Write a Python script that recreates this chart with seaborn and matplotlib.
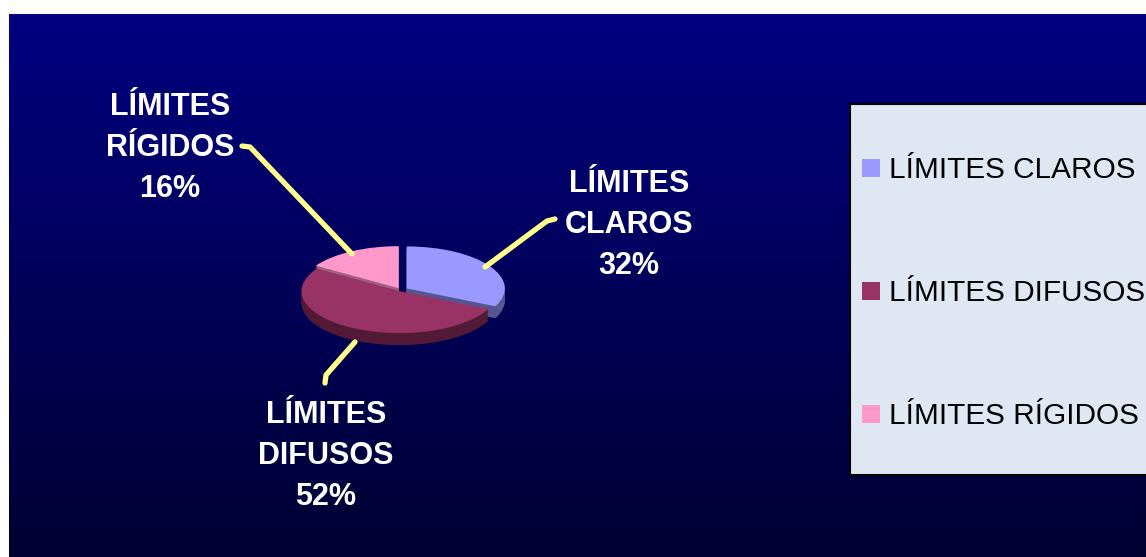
import numpy as np
import matplotlib
matplotlib.use("Agg")
import matplotlib.pyplot as plt
from matplotlib.patches import Rectangle
import seaborn as sns

# ---- data ----
categories = ["LÍMITES CLAROS", "LÍMITES DIFUSOS", "LÍMITES RÍGIDOS"]
values = [32, 52, 16]

# ---- style ----
sns.set_theme(style="white")
plt.rcParams['font.family'] = ['Liberation Sans', 'DejaVu Sans']

top_colors = sns.color_palette(["#9999ff", "#993366", "#ff99cc"])
side_colors = sns.color_palette(["#55558f", "#521a35", "#a0607e"])
explode = [0.07, 0.03, 0.05]

W, H = 1146, 557
fig = plt.figure(figsize=(W / 100, H / 100), dpi=100)
fig.patch.set_facecolor("white")

# background gradient panel
bg = fig.add_axes([9 / W, 0, 1 - 9 / W, (H - 14) / H], zorder=0)
grad = np.linspace(0, 1, 256)[:, None]
top = np.array([0, 0, 0x80]) / 255
bot = np.array([0, 0, 0x33]) / 255
img = top[None, None, :] * (1 - grad[:, :, None]) + bot[None, None, :] * grad[:, :, None]
bg.imshow(img, aspect="auto", extent=[0, 1, 0, 1])
bg.set_axis_off()

# ---- 3D-like pie ----
rx, ry = 98, 42
cx, cy = 401, 290
xl, yl = 1.5, 1.8
pax = fig.add_axes([(cx - xl * rx) / W, (H - cy - yl * ry) / H,
                    2 * xl * rx / W, 2 * yl * ry / H], zorder=1)
pax.patch.set_alpha(0)
thick = 12 / ry
for k in np.linspace(thick, 0.0, 16):
    cols = side_colors if k > 0 else top_colors
    pax.pie(values, colors=cols, startangle=90, counterclock=False,
            explode=explode, center=(0, -k),
            wedgeprops=dict(linewidth=0, antialiased=True))
pax.set_aspect("auto")
pax.set_xlim(-xl, xl)
pax.set_ylim(-yl, yl)
pax.set_axis_off()

# ---- overlay: labels, leader lines, legend ----
ov = fig.add_axes([0, 0, 1, 1], zorder=2)
ov.patch.set_alpha(0)
ov.set_xlim(0, W)
ov.set_ylim(H, 0)
ov.set_axis_off()

label_pos = [(629, 192), (326, 423), (170, 115)]
line_step = 41
for cat, val, (lx, ly) in zip(categories, values, label_pos):
    lines = cat.split(" ") + [f"{val}%"]
    for i, t in enumerate(lines):
        ov.text(lx, ly + i * line_step, t, color="white", fontsize=22,
                fontweight="bold", ha="center", va="baseline")

leaders = [
    [(555, 219), (547, 221), (485, 267)],
    [(325, 383), (326, 375), (355, 342)],
    [(242, 146), (250, 147), (352, 254)],
]
for pts in leaders:
    xs, ys = zip(*pts)
    ov.plot(xs, ys, color="#ffff8c", lw=3.8, solid_capstyle="round",
            solid_joinstyle="round")

# legend box
ov.add_patch(Rectangle((850, 104), 400, 371, facecolor="#dfe7f3",
                       edgecolor="black", lw=1.5))
leg_y = [178, 301, 424]
for cat, col, by in zip(categories, top_colors, leg_y):
    ov.add_patch(Rectangle((862, by - 19), 18, 18, facecolor=col,
                           edgecolor="none"))
    ov.text(889, by, cat, color="black", fontsize=21.4, ha="left",
            va="baseline")

fig.savefig("out.png", dpi=100, facecolor=fig.get_facecolor())
